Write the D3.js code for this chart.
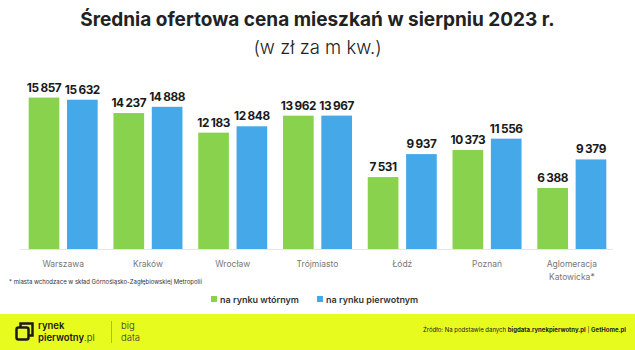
<!DOCTYPE html>
<html><head><meta charset="utf-8">
<script src="https://cdn.jsdelivr.net/npm/d3@7"></script>
<style>body{margin:0;background:#fff}svg{display:block}text{font-family:Inter,"Noto Sans",sans-serif}</style>
</head><body><svg id="c" width="635" height="350"></svg>
<script>
const categories = ["Warszawa","Kraków","Wrocław","Trójmiasto","Łódź","Poznań","Aglomeracja\nKatowicka*"];
const wtorny = [15857,14237,12183,13962,7531,10373,6388];
const pierwotny = [15632,14888,12848,13967,9937,11556,9379];
const seriesNames = ["na rynku wtórnym","na rynku pierwotnym"];
const colors = ["#88d24e","#45a8e8"];

const svg = d3.select("#c");
const W = 635, H = 350;
svg.append("rect").attr("width",W).attr("height",H).attr("fill","#fff");

svg.append("text").attr("x",317.5).attr("y",26).attr("text-anchor","middle")
  .attr("font-size",19).attr("font-weight",700).attr("fill","#222")
  .text("Średnia ofertowa cena mieszkań w sierpniu 2023 r.");
svg.append("text").attr("x",317.5).attr("y",54).attr("text-anchor","middle")
  .attr("font-size",18.5).attr("font-weight",300).attr("fill","#222")
  .text("(w zł za m kw.)");

const x = d3.scaleBand().domain(categories).range([20.8,614.2]).paddingInner(0.186).paddingOuter(0.093);
const x1 = d3.scaleBand().domain([0,1]).range([0,x.bandwidth()]).paddingInner(0.2);
const y = d3.scaleLinear().domain([0,16000]).range([249,96.2]);

svg.append("line").attr("x1",20).attr("x2",613).attr("y1",249.5).attr("y2",249.5).attr("stroke","#e6e6e6");

const fmt = v => d3.format(",")(v).replace(/,/g," ");
const data = categories.map((c,i)=>({c, v:[wtorny[i],pierwotny[i]]}));
const g = svg.selectAll("g.grp").data(data).join("g").attr("transform",d=>`translate(${x(d.c)},0)`);
g.selectAll("rect").data(d=>d.v).join("rect")
  .attr("x",(v,j)=>x1(j)).attr("width",x1.bandwidth())
  .attr("y",v=>y(v)).attr("height",v=>y(0)-y(v)).attr("fill",(v,j)=>colors[j]);
g.selectAll("text.val").data(d=>d.v).join("text").attr("class","val")
  .attr("x",(v,j)=>x1(j)+x1.bandwidth()/2).attr("y",v=>y(v)-6)
  .attr("text-anchor","middle").attr("font-size",11.8).attr("font-weight",700).attr("fill","#1a1a1a")
  .attr("letter-spacing","-0.4").attr("word-spacing","-0.6")
  .text(fmt);

// category labels
categories.forEach(c=>{
  const lines = c.split("\n");
  const t = svg.append("text").attr("x",x(c)+x.bandwidth()/2).attr("y",267)
    .attr("text-anchor","middle").attr("font-size",8.5).attr("fill","#777");
  lines.forEach((l,i)=>t.append("tspan").attr("x",x(c)+x.bandwidth()/2).attr("dy",i?13:0).text(l));
});

svg.append("text").attr("x",9).attr("y",284).attr("font-size",6).attr("fill","#333")
  .text("* miasta wchodzace w skład Górnośląsko-Zagłębiowskiej Metropolii");

// legend
const lx = [211,317];
seriesNames.forEach((n,i)=>{
  svg.append("rect").attr("x",lx[i]).attr("y",296).attr("width",6).attr("height",6).attr("fill",colors[i]);
  svg.append("text").attr("x",lx[i]+9).attr("y",302.5).attr("font-size",9).attr("font-weight",600).attr("fill","#333").text(n);
});

// footer
svg.append("rect").attr("x",0).attr("y",314).attr("width",W).attr("height",36).attr("fill","#e8fb1e");
svg.append("rect").attr("x",16.5).attr("y",327.5).attr("width",12).attr("height",12).attr("rx",2).attr("fill","none").attr("stroke","#1a1a1a").attr("stroke-width",2.5);
svg.append("path").attr("d","M20.5,327.5 V323.5 H32.5 V335.5 H28.5").attr("fill","none").attr("stroke","#1a1a1a").attr("stroke-width",2.5);
svg.append("text").attr("x",38).attr("y",329).attr("font-size",9.5).attr("font-weight",600).attr("fill","#1a1a1a").text("rynek");
const t2 = svg.append("text").attr("x",38).attr("y",340.5).attr("font-size",9.5).attr("font-weight",600).attr("fill","#1a1a1a");
t2.append("tspan").text("pierwotny");
t2.append("tspan").attr("font-weight",300).text(".pl");
svg.append("line").attr("x1",111.5).attr("x2",111.5).attr("y1",321).attr("y2",343).attr("stroke","#999").attr("stroke-width",0.8);
svg.append("text").attr("x",121).attr("y",329).attr("font-size",9.5).attr("font-weight",300).attr("fill","#333").text("big");
svg.append("text").attr("x",121).attr("y",340.5).attr("font-size",9.5).attr("font-weight",300).attr("fill","#333").text("data");
const src = svg.append("text").attr("x",626).attr("y",332).attr("text-anchor","end").attr("font-size",6).attr("fill","#222");
src.append("tspan").text("Źródło: Na podstawie danych ");
src.append("tspan").attr("font-weight",700).text("bigdata.rynekpierwotny.pl");
src.append("tspan").text(" | ");
src.append("tspan").attr("font-weight",700).text("GetHome.pl");
</script></body></html>
